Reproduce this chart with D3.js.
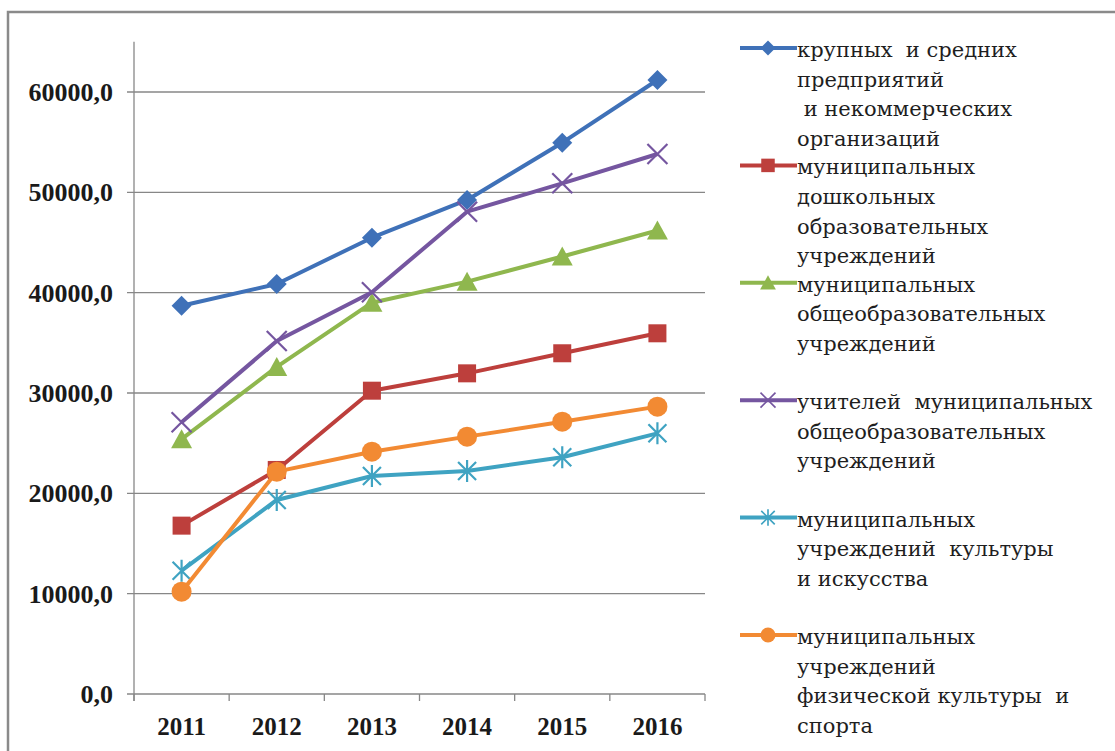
<!DOCTYPE html>
<html><head><meta charset="utf-8">
<script src="https://cdn.jsdelivr.net/npm/d3@7"></script>
<style>body{margin:0;background:#fff}svg{display:block}text{white-space:pre}</style>
</head><body>
<svg id="c" width="1115" height="751"></svg>
<script>
// ---- data ----
const years = ["2011", "2012", "2013", "2014", "2015", "2016"];
const yTicks = [0, 10000, 20000, 30000, 40000, 50000, 60000];
const largeMedium = [38700, 40860, 45480, 49240, 54950, 61200];
const preschool   = [16780, 22330, 30230, 31960, 33960, 35950];
const schools     = [25400, 32600, 39000, 41100, 43600, 46200];
const teachers    = [27080, 35180, 40040, 48070, 50900, 53820];
const culture     = [12290, 19340, 21730, 22230, 23600, 25980];
const sport       = [10200, 22160, 24150, 25650, 27140, 28640];
const seriesLabels = [
  ["крупных  и средних", "предприятий", " и некоммерческих", "организаций"],
  ["муниципальных", "дошкольных", "образовательных", "учреждений"],
  ["муниципальных", "общеобразовательных", "учреждений"],
  ["учителей  муниципальных", "общеобразовательных", "учреждений"],
  ["муниципальных", "учреждений  культуры", "и искусства"],
  ["муниципальных", "учреждений", "физической культуры  и", "спорта"]
];
const seriesValues = [largeMedium, preschool, schools, teachers, culture, sport];
const seriesColors = ["#3F71B8", "#BD3F3C", "#8FB74E", "#7556A0", "#3FA3C2", "#F28A33"];
const seriesMarkers = ["diamond", "square", "triangle", "x", "asterisk", "circle"];

// ---- drawing ----
const svg = d3.select("#c");
const x = d3.scaleBand().domain(years).range([134, 705]);
const y = d3.scaleLinear().domain([0, 60000]).range([694, 92]);
const axisColor = "#878787";

svg.append("rect").attr("x", 8).attr("y", 12).attr("width", 1130).attr("height", 770)
  .attr("fill", "none").attr("stroke", "#8a8a8a").attr("stroke-width", 2.5);

svg.append("g").selectAll("line").data(yTicks).join("line")
  .attr("x1", 127).attr("x2", 705)
  .attr("y1", d => y(d)).attr("y2", d => y(d))
  .attr("stroke", axisColor).attr("stroke-width", 1.3);

svg.append("line").attr("x1", 134).attr("x2", 134)
  .attr("y1", y(65000)).attr("y2", 701)
  .attr("stroke", axisColor).attr("stroke-width", 1.3);

const edges = years.map(d => x(d)).concat([x.range()[1]]);
svg.append("g").selectAll("line").data(edges).join("line")
  .attr("x1", d => d).attr("x2", d => d).attr("y1", 694).attr("y2", 701)
  .attr("stroke", axisColor).attr("stroke-width", 1.3);

const fmt = v => d3.format(".1f")(v).replace(".", ",");
svg.append("g").selectAll("text").data(yTicks).join("text")
  .attr("x", 113).attr("y", d => y(d)).attr("dy", "0.35em")
  .attr("text-anchor", "end")
  .style("font-family", "'Liberation Serif', 'Times New Roman', serif")
  .style("font-weight", "bold").style("font-size", "26px").attr("fill", "#1a1a1a")
  .text(fmt);

svg.append("g").selectAll("text").data(years).join("text")
  .attr("x", d => x(d) + x.bandwidth() / 2).attr("y", 735)
  .attr("text-anchor", "middle")
  .style("font-family", "'Liberation Serif', 'Times New Roman', serif")
  .style("font-weight", "bold").style("font-size", "25px").attr("fill", "#1a1a1a")
  .text(d => d);

function drawMarker(g, type, color) {
  if (type === "diamond") {
    g.append("path").attr("d", "M0,-10L10,0L0,10L-10,0Z").attr("fill", color);
  } else if (type === "square") {
    g.append("rect").attr("x", -9).attr("y", -9).attr("width", 18).attr("height", 18).attr("fill", color);
  } else if (type === "triangle") {
    g.append("path").attr("d", "M0,-10L10.5,9L-10.5,9Z").attr("fill", color);
  } else if (type === "circle") {
    g.append("circle").attr("r", 10).attr("fill", color);
  } else if (type === "x") {
    g.append("path").attr("d", "M-10,-10L10,10M-10,10L10,-10")
      .attr("stroke", color).attr("stroke-width", 2.2).attr("fill", "none");
  } else if (type === "asterisk") {
    g.append("path").attr("d", "M-9,-9L9,9M-9,9L9,-9M0,-11L0,11")
      .attr("stroke", color).attr("stroke-width", 2.2).attr("fill", "none");
  }
}

const line = d3.line().x((d, i) => x(years[i]) + x.bandwidth() / 2).y(d => y(d));
seriesValues.forEach((vals, si) => {
  const g = svg.append("g");
  g.append("path").datum(vals).attr("d", line)
    .attr("fill", "none").attr("stroke", seriesColors[si]).attr("stroke-width", 4)
    .attr("stroke-linejoin", "round");
  vals.forEach((v, i) => {
    const mg = g.append("g").attr("transform", `translate(${x(years[i]) + x.bandwidth() / 2},${y(v)})`);
    drawMarker(mg, seriesMarkers[si], seriesColors[si]);
  });
});

const legend = svg.append("g");
seriesLabels.forEach((lines, si) => {
  const my = 48 + si * 117.4;
  legend.append("line").attr("x1", 740).attr("x2", 797).attr("y1", my).attr("y2", my)
    .attr("stroke", seriesColors[si]).attr("stroke-width", 4);
  const mg = legend.append("g").attr("transform", `translate(768,${my})`);
  const small = mg.append("g").attr("transform", "scale(0.75)");
  drawMarker(small, seriesMarkers[si], seriesColors[si]);
  lines.forEach((t, li) => {
    legend.append("text").attr("x", 797).attr("y", my + 9 + li * 29.6)
      .style("font-family", "'DejaVu Serif', 'Liberation Serif', serif")
      .style("font-size", "21px").attr("fill", "#1e1e1e")
      .attr("xml:space", "preserve")
      .text(t);
  });
});
</script>
</body></html>
